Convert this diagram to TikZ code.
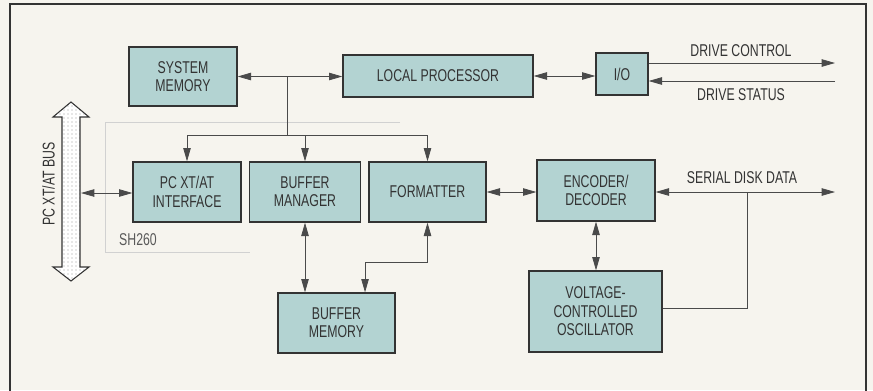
\documentclass[tikz,border=0pt]{standalone}
\usepackage{fontspec}
\setmainfont{Liberation Sans}[FakeStretch=0.72]
\usepackage{tikz}
\usetikzlibrary{arrows.meta,patterns}
\definecolor{paper}{HTML}{F6F4EE}
\definecolor{boxfill}{HTML}{B3D3D2}
\definecolor{ink}{HTML}{333333}
\definecolor{wirecol}{HTML}{4A4A4A}
\tikzset{
  blockbox/.style={
    rectangle,
    draw=ink,
    line width=1pt,
    fill=boxfill,
    text=ink,
    align=center,
    inner sep=1pt,
    font=\fontsize{12.8}{13.8}\selectfont
  },
  sigtext/.style={
    text=ink,
    inner sep=0pt,
    font=\fontsize{12.8}{13.8}\selectfont
  },
  wire/.style={draw=wirecol,line width=0.6pt},
  oneway/.style={wire,-{Triangle[length=10pt,width=5.6pt]}},
  twoway/.style={wire,{Triangle[length=10pt,width=5.6pt]}-{Triangle[length=10pt,width=5.6pt]}},
  chipline/.style={draw=black!18,line width=0.5pt}
}

\begin{document}
\begin{tikzpicture}[x=0.75pt,y=-0.75pt]
  \fill[paper] (0,0) rectangle (873,390);
  \useasboundingbox (0,0) rectangle (873,390);
  % frame
  \draw[ink,line width=1.6pt] (10,392) -- (10,4) -- (866,4) -- (866,392);
  % SH260 boundary
  \draw[chipline] (400,122) -- (105,122) -- (105,252) -- (250,252);
  \node[sigtext,text=black!65] (chip) at (138,240) {SH260};
  % host bus
  \draw[draw=ink,line width=0.8pt,preaction={fill=white},pattern=dots,pattern color=black!40]
    (71,102) -- (89,117) -- (80,117) -- (80,267) -- (89,267) -- (71,281)
    -- (53,267) -- (62,267) -- (62,117) -- (53,117) -- cycle;
  \node[sigtext,rotate=90] (bus) at (48.5,184) {PC XT/AT BUS};
  \coordinate (busport) at (81,193);

  \node[blockbox,minimum width=81pt,minimum height=44.25pt] (sysmem) at (183,76.5) {SYSTEM\\MEMORY};
  \node[blockbox,minimum width=142.5pt,minimum height=31.5pt] (localproc) at (438,76) {LOCAL PROCESSOR};
  \node[blockbox,minimum width=39pt,minimum height=31.5pt] (io) at (622,74) {I/O};
  \node[blockbox,minimum width=81pt,minimum height=45pt] (pcif) at (187,192) {PC XT/AT\\INTERFACE};
  \node[blockbox,minimum width=83.25pt,minimum height=45pt] (bufmgr) at (305,192) {BUFFER\\MANAGER};
  \node[blockbox,minimum width=87.75pt,minimum height=45pt] (fmt) at (427.5,192) {FORMATTER};
  \node[blockbox,minimum width=88.5pt,minimum height=45.75pt] (encdec) at (596,190.5) {ENCODER/\\DECODER};
  \node[blockbox,minimum width=87.75pt,minimum height=45pt] (bufmem) at (336.5,323) {BUFFER\\MEMORY};
  \node[blockbox,minimum width=99.75pt,minimum height=60.75pt] (vco) at (595.5,311.5) {VOLTAGE-\\CONTROLLED\\OSCILLATOR};

  % drive interface ends
  \coordinate (ctlend) at (835,63);
  \coordinate (statend) at (835,81);
  \coordinate (diskend) at (835,192);
  \coordinate (disktap) at (747,192);
  \node[sigtext] (ctl) at (741,51) {DRIVE CONTROL};
  \node[sigtext] (stat) at (741,95) {DRIVE STATUS};
  \node[sigtext] (disk) at (742,178) {SERIAL DISK DATA};

  % local bus
  \coordinate (memtap) at (287,76.5);
  \coordinate (split) at (287,135);
  \draw[twoway] (sysmem.east) -- (sysmem.east -| localproc.west);
  \draw[wire] (memtap) -- (split);
  \draw[oneway] (split) -| (pcif.north);
  \draw[oneway] (split) -| (bufmgr.north);
  \draw[oneway] (split) -| (fmt.north);
  \draw[twoway] (localproc.east) -- (localproc.east -| io.west);
  \draw[oneway] (io.east |- ctlend) -- (ctlend);
  \draw[oneway] (statend) -- (io.east |- statend);

  % data path
  \draw[twoway] (busport) -- (pcif.west |- busport);
  \draw[twoway] (bufmgr.south) -- (bufmgr.south |- bufmem.north);
  \draw[twoway] (fmt.south) -- ++(0,40) -| ([xshift=21.4pt]bufmem.north);
  \draw[twoway] (fmt.east) -- (fmt.east -| encdec.west);
  \draw[twoway] (encdec.east |- diskend) -- (diskend);
  \draw[wire] (disktap) |- ([yshift=2.6pt]vco.east);
  \draw[twoway] (encdec.south) -- (encdec.south |- vco.north);
\end{tikzpicture}
\end{document}
